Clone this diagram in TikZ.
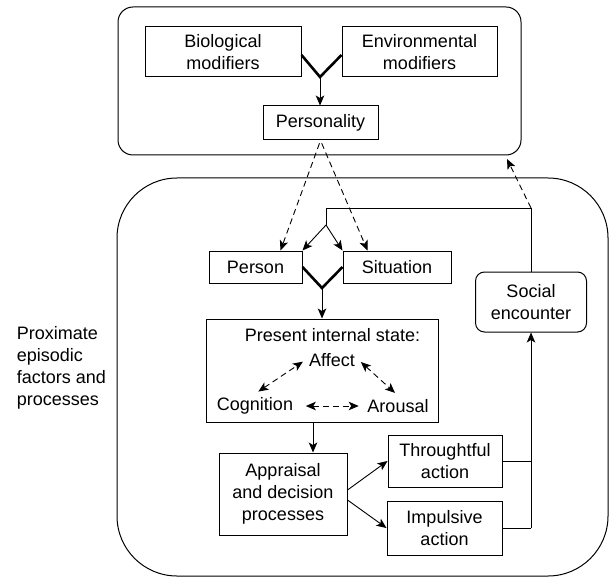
\documentclass[tikz,border=0pt]{standalone}
\usepackage{fontspec}
\setmainfont{Liberation Sans}
\usetikzlibrary{arrows.meta}

\begin{document}
\begin{tikzpicture}[x=1pt,y=-1pt,
  font=\fontsize{18}{22}\selectfont,
  >={Stealth[length=10pt,width=8.5pt,inset=2.5pt]},
  line width=0.9pt,
  box/.style={draw,line width=1pt,align=center,inner sep=0pt},
  dsh/.style={dash pattern=on 6pt off 4pt},
  vee/.style={line width=2.6pt,line join=miter}]
\useasboundingbox (0,0) rectangle (609,577);

% frames
\node[box,rounded corners=15pt,minimum width=403pt,minimum height=148pt] (upper) at (319.5,81) {};
\node[box,rounded corners=60pt,minimum width=491pt,minimum height=398pt] (lower) at (362.5,377) {};
\node[align=left,anchor=west] (prox) at (13,368) {Proximate\\episodic\\factors and\\processes};

% upper part
\node[box,minimum width=156pt,minimum height=50pt] (bio) at (223,52) {Biological\\modifiers};
\node[box,minimum width=155pt,minimum height=50pt] (env) at (419.5,52) {Environmental\\modifiers};
\node[box,minimum width=115pt,minimum height=34pt] (pers) at (320.5,123) {Personality};
\coordinate (ymeet) at (320,77);
\draw[vee] ([yshift=-3pt]bio.east) -- (ymeet) -- ([yshift=-3pt]env.west);
\draw[->] (ymeet) -- (ymeet |- pers.north);

% person and situation
\node[box,minimum width=93pt,minimum height=32pt] (person) at (255.5,267) {Person};
\node[box,minimum width=108pt,minimum height=32pt] (situation) at (397,267) {Situation};
\draw[dsh,->,shorten <=3pt] (pers.south) -- ([xshift=-22pt]person.north east);
\draw[dsh,->,shorten <=3pt] (pers.south) -- ([xshift=25pt]situation.north west);

% internal state
\node[box,minimum width=232pt,minimum height=103pt] (state) at (322,370.5) {};
\node (title) at (332.5,335) {Present internal state:};
\node (affect) at (332,360) {Affect};
\node (cognition) at (255,406) {Cognition};
\node (arousal) at (398,406) {Arousal};
\draw[dsh,<->,shorten <=4pt,shorten >=3pt] (cognition.north) -- (affect.west);
\draw[dsh,<->,shorten <=3pt,shorten >=4pt] (affect.east) -- (arousal.north);
\draw[dsh,<->,shorten <=9pt,shorten >=5pt] (cognition.east) -- (arousal.west);

\coordinate (vmeet) at (322,288);
\draw[vee] (person.east) -- (vmeet) -- (situation.west);
\draw[->] (vmeet) -- (vmeet |- state.north);

% appraisal and actions
\node[box,minimum width=128pt,minimum height=82pt] (appr) at (283,494) {Appraisal\\and decision\\processes};
\node[box,minimum width=114pt,minimum height=52pt] (thought) at (445,461) {Throughtful\\action};
\node[box,minimum width=115pt,minimum height=54pt] (impulse) at (444.5,528) {Impulsive\\action};
\draw[->] ([xshift=-9pt]state.south) -- ([xshift=-9pt]state.south |- appr.north);
\draw[->] ([yshift=4pt]appr.east) -- (thought.west);
\draw[->] ([yshift=-6pt]appr.east) -- (impulse.west);

% social encounter and feedback
\node[box,rounded corners=9pt,minimum width=111pt,minimum height=60pt] (social) at (531,302) {Social\\encounter};
\coordinate (rail) at (531,528);
\draw (impulse.east) -- (rail);
\draw (thought.east) -- (thought.east -| rail);
\draw[->] (rail) -- (social.south);

\coordinate (fb) at (531,208);
\coordinate (split) at (326,225);
\coordinate (uparr) at (507,159);
\draw (social.north) -- (fb) -| (split);
\draw[->] (split) -- (person.north east);
\draw[->] (split) -- (situation.north west);
\draw[dsh,->] (fb) -- (uparr);

\end{tikzpicture}
\end{document}
